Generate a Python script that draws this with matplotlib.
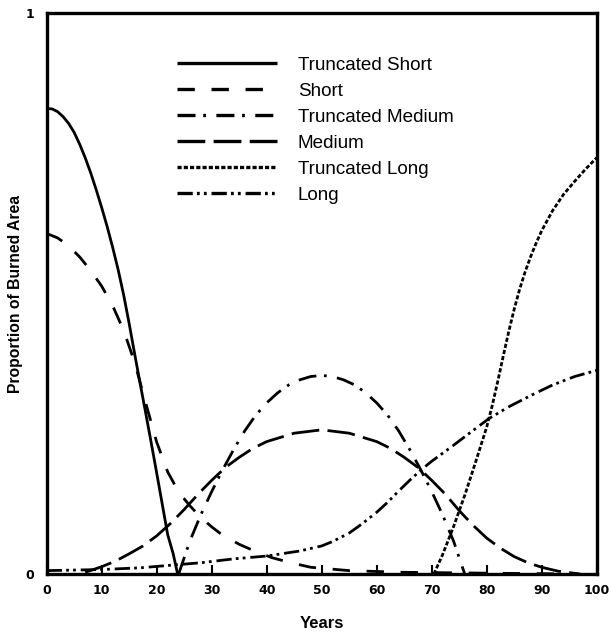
import matplotlib
matplotlib.use("Agg")
import matplotlib.pyplot as plt

# ============== PLT Configuration ================
plt.rcParams.update(
    {
        "font.family": "sans-serif",
        "font.sans-serif": ["Liberation Sans", "DejaVu Sans"],
        "lines.scale_dashes": False,
        "lines.dash_capstyle": "butt",
        "lines.solid_capstyle": "butt",
        "lines.dash_joinstyle": "round",
    }
)

# ============== Data =======================================
trunc_short_x = [0, 1, 2, 3, 4, 5, 6, 7, 8, 9, 10, 11, 12, 13, 14, 15, 16, 17, 18, 19,
                 20, 21, 22, 23, 23.8]
trunc_short_y = [0.830, 0.829, 0.824, 0.815, 0.803, 0.787, 0.766, 0.742, 0.715, 0.685,
                 0.653, 0.619, 0.582, 0.542, 0.497, 0.446, 0.392, 0.339, 0.287, 0.234,
                 0.180, 0.125, 0.070, 0.036, 0.0]

short_x = [0, 2, 4, 6, 8, 10, 12, 14, 16, 18, 20, 22, 24, 26, 28, 30, 32, 35, 38, 41,
           44, 48, 55, 65, 75, 85, 96]
short_y = [0.607, 0.599, 0.585, 0.565, 0.541, 0.513, 0.478, 0.434, 0.377, 0.305, 0.235,
           0.182, 0.146, 0.122, 0.101, 0.084, 0.069, 0.053, 0.040, 0.029, 0.021, 0.012,
           0.006, 0.003, 0.002, 0.001, 0.0]

trunc_med_x = [24, 26, 28, 30, 32, 34, 36, 38, 40, 42, 44, 46, 48, 50,
               52, 54, 56, 58, 60, 62, 64, 66, 68, 70, 72, 74, 76]
trunc_med_y = [0.0, 0.058, 0.105, 0.147, 0.186, 0.222, 0.255, 0.283, 0.305, 0.323, 0.337,
               0.346, 0.352, 0.354, 0.352, 0.346, 0.337, 0.323, 0.305, 0.283, 0.255, 0.222,
               0.186, 0.147, 0.105, 0.058, 0.0]

medium_x = [7, 10, 12.5, 15, 17.5, 20, 22.5, 25, 27.5, 30, 32.5, 35, 37.5, 40, 45, 50,
            55, 60, 62.5, 65, 67.5, 70, 72.5, 75, 77.5, 80, 82.5, 85, 87.5, 90, 93, 97]
medium_y = [0.003, 0.013, 0.023, 0.036, 0.050, 0.068, 0.090, 0.115, 0.142, 0.167, 0.190,
            0.208, 0.224, 0.236, 0.251, 0.257, 0.251, 0.236, 0.224, 0.208, 0.190, 0.167,
            0.142, 0.113, 0.087, 0.064, 0.046, 0.031, 0.020, 0.012, 0.005, 0.0]

trunc_long_x = [70.4, 72, 74, 76, 78, 80, 81, 82, 83, 84, 85, 86, 87, 88, 89, 90, 92, 94,
                96, 98, 100]
trunc_long_y = [0.0, 0.035, 0.085, 0.140, 0.200, 0.262, 0.300, 0.343, 0.388, 0.432, 0.472,
                0.508, 0.539, 0.566, 0.590, 0.612, 0.648, 0.677, 0.700, 0.722, 0.742]

long_x = [0, 10, 17, 23, 28, 34, 40, 46, 50, 52, 55, 57, 60, 62, 64, 66, 68, 70, 73.5,
          77, 80.4, 84, 88.6, 92, 96, 100]
long_y = [0.006, 0.008, 0.011, 0.016, 0.020, 0.027, 0.032, 0.041, 0.050, 0.058, 0.073,
          0.087, 0.110, 0.128, 0.148, 0.167, 0.185, 0.201, 0.226, 0.252, 0.277, 0.298,
          0.321, 0.337, 0.352, 0.363]

x_ticks = [0, 10, 20, 30, 40, 50, 60, 70, 80, 90, 100]
y_ticks = [0, 1]

# ============== Line Styles ================
LW = 2.0
series = [
    ("Truncated Short", trunc_short_x, trunc_short_y, None),
    ("Short", short_x, short_y, (0, (12.5, 12))),
    ("Truncated Medium", trunc_med_x, trunc_med_y, (0, (13, 5.5, 2, 7.5))),
    ("Medium", medium_x, medium_y, (0, (20, 6))),
    ("Truncated Long", trunc_long_x, trunc_long_y, (0, (3, 1.5))),
    ("Long", long_x, long_y, (0, (11, 3, 2, 3, 2, 3.5))),
]

fig = plt.figure(figsize=(6.11, 6.33), dpi=100)
ax = fig.add_axes([46.7 / 611, 59 / 633, 550 / 611, 561 / 633])

for label, xs, ys, ls in series:
    ax.plot(xs, ys, color="black", lw=LW,
            linestyle="-" if ls is None else ls, label=label, clip_on=False)

ax.set_xlim(0, 100)
ax.set_ylim(0, 1)
ax.set_xticks(x_ticks)
ax.set_yticks(y_ticks)
ax.set_xticklabels([str(t) for t in x_ticks], fontfamily="DejaVu Sans",
                   fontweight="bold", fontsize=9)
ax.set_yticklabels([str(t) for t in y_ticks], fontfamily="DejaVu Sans",
                   fontweight="bold", fontsize=9)
ax.tick_params(axis="x", direction="in", length=6.5, width=1.5, pad=7)
ax.tick_params(axis="y", length=0, pad=9)
for sp in ax.spines.values():
    sp.set_linewidth(2.4)

ax.set_xlabel("Years", fontweight="bold", fontsize=12, labelpad=14)
ax.set_ylabel("Proportion of Burned Area", fontweight="bold", fontsize=11.3, labelpad=2)

leg = ax.legend(loc="upper left", bbox_to_anchor=(0.237, 0.922), frameon=False,
                fontsize=13.6, handlelength=5.3, handletextpad=1.1,
                labelspacing=0.46, borderpad=0, borderaxespad=0)
for h in leg.get_lines():
    h.set_linewidth(2.4)

fig.savefig("out.png", dpi=100)
